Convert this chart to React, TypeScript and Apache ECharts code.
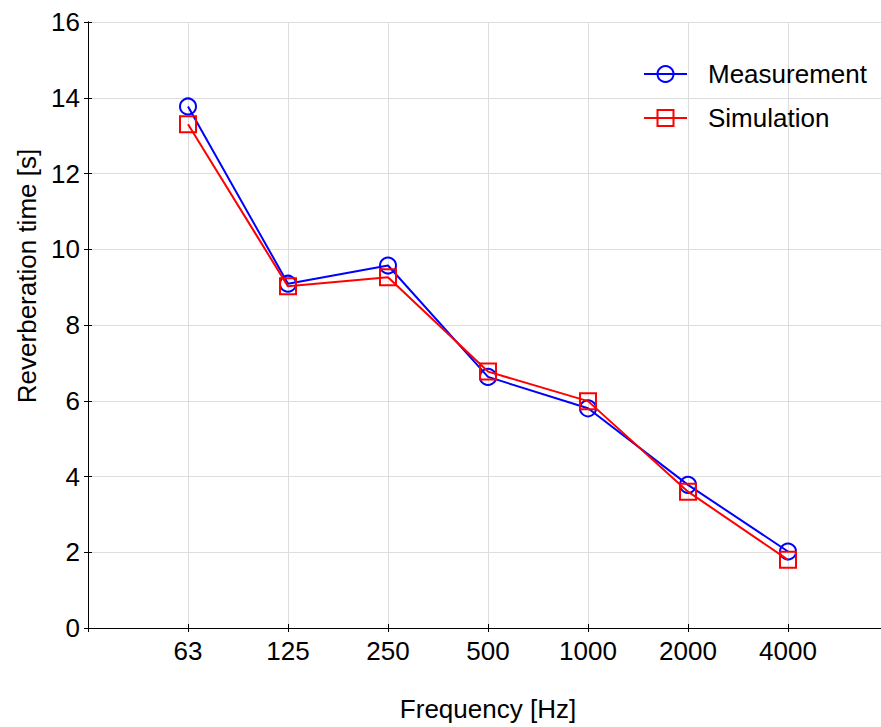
import React, { useEffect, useRef } from 'react';
import * as echarts from 'echarts';

const frequencies = ['63', '125', '250', '500', '1000', '2000', '4000'];
const measurement = [13.77, 9.09, 9.57, 6.63, 5.8, 3.78, 2.02];
const simulation = [13.3, 9.02, 9.26, 6.77, 5.99, 3.6, 1.8];
const seriesNames = ['Measurement', 'Simulation'];
const xName = 'Frequency [Hz]';
const yName = 'Reverberation time [s]';

const FONT = 'Liberation Sans, Arial, sans-serif';

export default function App() {
  const ref = useRef<HTMLDivElement>(null);
  useEffect(() => {
    if (!ref.current) return;
    const chart = echarts.init(ref.current, undefined, { renderer: 'svg' });
    const axisText = { fontFamily: FONT, fontSize: 26, color: '#000' };
    const common = {
      type: 'value' as const,
      axisLine: { show: true, lineStyle: { color: '#000', width: 1 } },
      axisTick: { show: true, inside: true, length: 4, lineStyle: { color: '#000', width: 1 } },
    };
    chart.setOption({
      animation: false,
      backgroundColor: '#fff',
      grid: { left: 88, top: 22, width: 800, height: 607, containLabel: false },
      legend: {
        orient: 'vertical',
        left: 643,
        top: 61,
        padding: 0,
        itemWidth: 43,
        itemHeight: 20,
        itemGap: 18,
        formatter: '{a|{name}}',
        textStyle: {
          fontFamily: FONT,
          fontSize: 26,
          color: '#000',
          rich: { a: { fontFamily: FONT, fontSize: 26, color: '#000', padding: [0, 0, 0, 16] } },
        },
        data: seriesNames,
      },
      xAxis: [
        {
          ...common,
          position: 'bottom',
          min: 0,
          max: 8,
          interval: 1,
          axisLabel: {
            ...axisText,
            margin: 10,
            formatter: (v: number) => frequencies[v - 1] ?? '',
          },
          splitLine: { show: true, lineStyle: { color: '#dddddd', width: 1 } },
          name: xName,
          nameLocation: 'middle',
          nameGap: 68,
          nameTextStyle: axisText,
        },
        {
          ...common,
          position: 'top',
          min: 0,
          max: 8,
          interval: 1,
          axisLabel: { show: false },
          splitLine: { show: false },
        },
      ],
      yAxis: [
        {
          ...common,
          position: 'left',
          min: 0,
          max: 16,
          interval: 2,
          axisLabel: { ...axisText, margin: 8 },
          splitLine: { show: true, lineStyle: { color: '#dddddd', width: 1 } },
        },
        {
          ...common,
          position: 'right',
          min: 0,
          max: 16,
          interval: 2,
          axisLabel: { show: false },
          splitLine: { show: false },
        },
      ],
      graphic: [
        {
          type: 'text',
          x: 27,
          y: 276,
          rotation: Math.PI / 2,
          style: {
            text: yName,
            fontFamily: FONT,
            fontSize: 26,
            fill: '#000',
            textAlign: 'center',
            textVerticalAlign: 'middle',
          },
        },
      ],
      series: [
        {
          name: seriesNames[0],
          type: 'line',
          data: measurement.map((v, i) => [i + 1, v]),
          symbol: 'circle',
          symbolSize: 16,
          lineStyle: { color: '#0000ff', width: 2 },
          itemStyle: { color: 'rgba(0,0,0,0)', borderColor: '#0000ff', borderWidth: 2 },
          z: 3,
        },
        {
          name: seriesNames[1],
          type: 'line',
          data: simulation.map((v, i) => [i + 1, v]),
          symbol: 'rect',
          symbolSize: 16,
          lineStyle: { color: '#ff0000', width: 2 },
          itemStyle: { color: 'rgba(0,0,0,0)', borderColor: '#ff0000', borderWidth: 2 },
          z: 4,
        },
      ],
    });
    return () => chart.dispose();
  }, []);
  return (
    <div
      style={{ position: 'fixed', left: 0, top: 0, width: 881, height: 727, overflow: 'hidden' }}
    >
      <div ref={ref} style={{ width: 900, height: 727 }} />
    </div>
  );
}
